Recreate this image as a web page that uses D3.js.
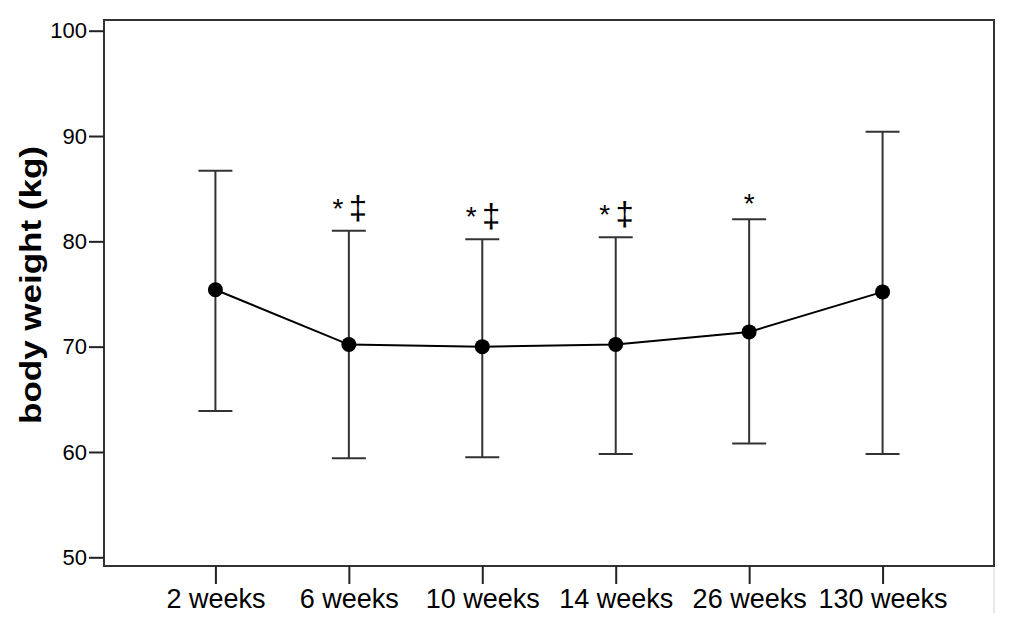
<!DOCTYPE html>
<html>
<head>
<meta charset="utf-8">
<script src="https://cdn.jsdelivr.net/npm/d3@7"></script>
<style>
  body { margin: 0; background: #fff; }
  text { font-family: "Liberation Sans", Arial, sans-serif; fill: #000; }
</style>
</head>
<body>
<div id="chart"></div>
<script>
const weeks = ['2 weeks', '6 weeks', '10 weeks', '14 weeks', '26 weeks', '130 weeks'];
const means = [75.4, 70.2, 70.0, 70.2, 71.4, 75.2];
const upper = [86.7, 81.0, 80.2, 80.4, 82.1, 90.4];
const lower = [63.9, 59.4, 59.5, 59.8, 60.8, 59.8];
// significance: * and double dagger
const star = [false, true, true, true, true, false];
const dagger = [false, true, true, true, false, false];
const yTicks = [50, 60, 70, 80, 90, 100];

const width = 1013, height = 623;
const box = {left: 104, right: 994, top: 20, bottom: 566};

const svg = d3.select('#chart').append('svg')
  .attr('width', width)
  .attr('height', height);

const x = d3.scalePoint()
  .domain(weeks)
  .range([box.left, box.right])
  .padding(0.835);

const y = d3.scaleLinear()
  .domain([50, 100])
  .range([557.3, 30.7]);

// faint line at the right edge below the frame
svg.append('line')
  .attr('x1', box.right).attr('x2', box.right)
  .attr('y1', box.bottom).attr('y2', 613)
  .attr('stroke', '#e2e2e2').attr('stroke-width', 1.5);

// frame
svg.append('rect')
  .attr('x', box.left).attr('y', box.top)
  .attr('width', box.right - box.left)
  .attr('height', box.bottom - box.top)
  .attr('fill', 'none')
  .attr('stroke', '#333')
  .attr('stroke-width', 2);

// y axis
const yAxis = svg.append('g')
  .attr('transform', `translate(${box.left},0)`)
  .call(d3.axisLeft(y).tickValues(yTicks).tickSize(15).tickPadding(2));
yAxis.select('.domain').remove();
yAxis.selectAll('.tick line').attr('stroke', '#222').attr('stroke-width', 2);
yAxis.selectAll('.tick text')
  .style('font-size', '22px')
  .attr('fill', '#000');

// x axis
const xAxis = svg.append('g')
  .attr('transform', `translate(0,${box.bottom})`)
  .call(d3.axisBottom(x).tickSize(18).tickPadding(5));
xAxis.select('.domain').remove();
xAxis.selectAll('.tick line').attr('stroke', '#222').attr('stroke-width', 2);
xAxis.selectAll('.tick text')
  .style('font-size', '27px')
  .attr('fill', '#000');

// y label
svg.append('text')
  .attr('transform', `translate(41,285) rotate(-90)`)
  .attr('text-anchor', 'middle')
  .attr('textLength', 278)
  .attr('lengthAdjust', 'spacingAndGlyphs')
  .style('font-size', '29px')
  .style('font-weight', 'bold')
  .text('body weight (kg)');

const rows = weeks.map((w, i) => ({w, m: means[i], hi: upper[i], lo: lower[i], star: star[i], dagger: dagger[i]}));

// error bars
const eb = svg.append('g')
  .attr('stroke', '#333')
  .attr('stroke-width', 2)
  .selectAll('g')
  .data(rows)
  .join('g');
eb.append('line')
  .attr('x1', d => x(d.w)).attr('x2', d => x(d.w))
  .attr('y1', d => y(d.hi)).attr('y2', d => y(d.lo));
eb.append('line')
  .attr('x1', d => x(d.w) - 17).attr('x2', d => x(d.w) + 17)
  .attr('y1', d => y(d.hi)).attr('y2', d => y(d.hi));
eb.append('line')
  .attr('x1', d => x(d.w) - 17).attr('x2', d => x(d.w) + 17)
  .attr('y1', d => y(d.lo)).attr('y2', d => y(d.lo));

// mean line
svg.append('path')
  .datum(rows)
  .attr('fill', 'none')
  .attr('stroke', '#000')
  .attr('stroke-width', 2)
  .attr('d', d3.line().x(d => x(d.w)).y(d => y(d.m)));

svg.append('g')
  .selectAll('circle')
  .data(rows)
  .join('circle')
  .attr('cx', d => x(d.w))
  .attr('cy', d => y(d.m))
  .attr('r', 7.5)
  .attr('fill', '#000');

// significance marks
const sig = svg.append('g')
  .selectAll('g')
  .data(rows.filter(d => d.star || d.dagger))
  .join('g');
sig.filter(d => d.star).append('text')
  .attr('x', d => x(d.w) - (d.dagger ? 11 : 0))
  .attr('y', d => y(d.hi) - (d.dagger ? 13 : 6))
  .attr('text-anchor', 'middle')
  .style('font-size', '28px')
  .text('*');
sig.filter(d => d.dagger).append('text')
  .attr('x', d => x(d.w) + 9)
  .attr('y', d => y(d.hi) - 12)
  .attr('text-anchor', 'middle')
  .style('font-size', '33px')
  .text('\u2021');
</script>
</body>
</html>
